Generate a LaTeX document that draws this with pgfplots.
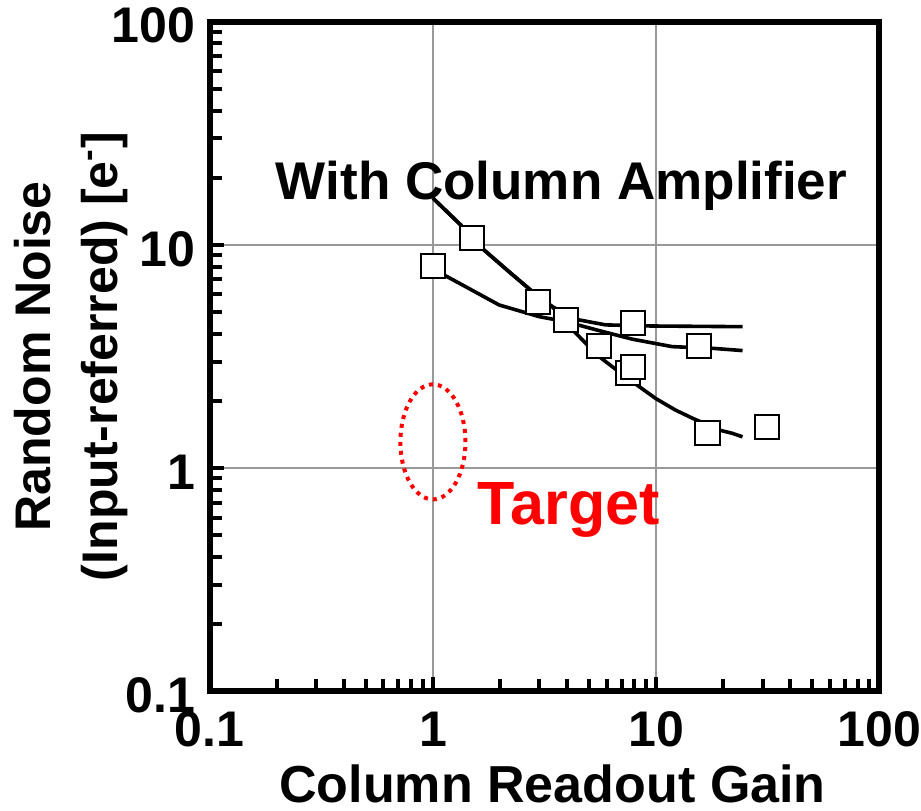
\documentclass[border=0pt]{standalone}
\usepackage{fontspec}
\setmainfont{Liberation Sans}
\usepackage{pgfplots}
\pgfplotsset{compat=1.18}
\begin{document}
\begin{tikzpicture}
\begin{axis}[
    scale only axis,
    width=334.5pt, height=334.5pt,
    xmode=log, ymode=log,
    xmin=0.1, xmax=100, ymin=0.1, ymax=100,
    axis line style={line width=3pt},
    tick style={line width=2pt, black},
    major tick length=7pt, minor tick length=6pt,
    tick align=inside,
    xtick pos=bottom, ytick pos=left,
    xtick={0.1,1,10,100}, xticklabels={0.1,1,10,100},
    ytick={0.1,1,10,100}, yticklabels={0.1,1,10,100},
    /pgf/number format/assume math mode=true,
    ticklabel style={font=\fontsize{25}{27}\selectfont\bfseries},
    xticklabel style={inner xsep=0pt, inner ysep=10pt},
    yticklabel style={inner xsep=7pt, inner ysep=4pt, yshift=-2pt},
    grid=major,
    major grid style={gray!80, line width=1pt},
    xlabel={Column Readout Gain},
    xlabel style={font=\fontsize{26}{28}\selectfont\bfseries,
        at={([xshift=4pt,yshift=-55.5pt]axis description cs:0.5,0)},
        anchor=base, inner sep=4pt},
    ylabel={Random Noise\\(Input-referred) [e\textsuperscript{-}]},
    ylabel style={font=\fontsize{25}{33.5}\selectfont\bfseries,
        align=center, inner sep=7pt,
        at={([xshift=-105pt]axis description cs:0,0.5)}, anchor=north},
    clip=false,
]
% lines
\addplot[black, line width=1.8pt, no markers] coordinates {
    (1.0,16.2) (1.33,12.3) (1.66,9.66) (2.19,7.59) (2.79,6.18) (3.43,5.28)
    (4.22,4.16) (5.55,3.16) (7.31,2.56) (9.96,2.05) (12.2,1.82) (14.6,1.67)
    (19.2,1.48) (22,1.43) (24.4,1.38)
};
\addplot[black, line width=1.8pt, no markers] coordinates {
    (1.0,16.2) (1.33,12.3) (1.66,9.66) (2.19,7.59) (2.79,6.18) (3.43,5.28)
    (4.52,4.61) (5.94,4.38) (9.6,4.33) (24.4,4.3)
};
\addplot[black, line width=1.8pt, no markers] coordinates {
    (1.0,7.8) (1.40,6.5) (1.98,5.38) (2.99,4.77) (3.94,4.53) (5.55,4.13)
    (7.83,3.78) (11.8,3.50) (17.9,3.44) (24.4,3.36)
};
% measured
\addplot[only marks, mark=square*, mark size=6pt,
    mark options={fill=white, draw=black, line width=1pt}] coordinates {
    (1.0,8.05) (1.49,10.7) (2.96,5.57) (3.94,4.61) (7.9,4.46) (5.57,3.53)
    (15.6,3.53) (7.47,2.66) (7.9,2.83) (17.0,1.43) (31.5,1.52)
};
\node[font=\fontsize{26.5}{28}\selectfont\bfseries, anchor=base]
    at (axis cs:3.77,15.9) {With Column Amplifier};
\node[font=\fontsize{30.5}{32}\selectfont\bfseries, text=red, anchor=base]
    at (axis cs:4.07,0.56) {Target};
\draw[red, line width=2pt, dash pattern=on 2pt off 2.5pt]
    (axis cs:1,1.31) ellipse [x radius=16.25pt, y radius=28.75pt];
\end{axis}
\end{tikzpicture}
\end{document}
